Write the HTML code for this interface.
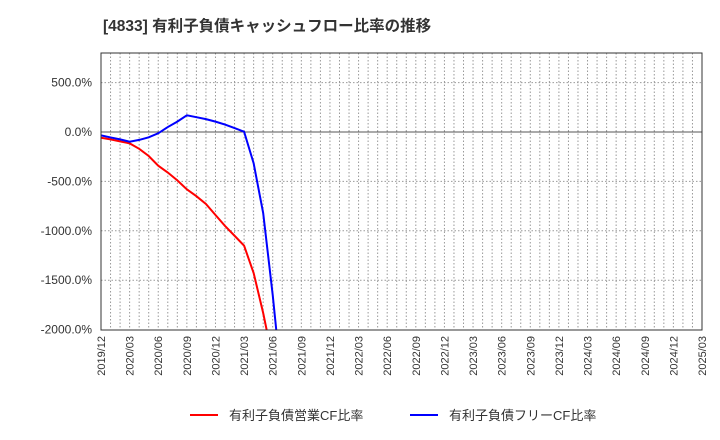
<!DOCTYPE html>
<html><head><meta charset="utf-8"><style>
html,body{margin:0;background:#fff;width:720px;height:440px;overflow:hidden;}
svg{display:block;}
svg text{font-family:"Liberation Sans","Noto Sans CJK JP",sans-serif;}
</style></head><body>
<svg id="c" width="720" height="440" xmlns="http://www.w3.org/2000/svg">
<text x="103" y="31" font-size="15.5" font-weight="bold" fill="#333">[4833]  有利子負債キャッシュフロー比率の推移</text>
<g id="grid"></g><g id="axes"></g>
<defs><clipPath id="pc"><rect x="101" y="53" width="601" height="277"/></clipPath></defs>
<g id="series" clip-path="url(#pc)"></g>
<rect x="101" y="53" width="601" height="277" fill="none" stroke="#333"/>
<g>
<line x1="190" y1="415" x2="218" y2="415" stroke="#f00" stroke-width="2"/>
<text x="229" y="420" font-size="13" fill="#333">有利子負債営業CF比率</text>
<line x1="410" y1="415" x2="438" y2="415" stroke="#00f" stroke-width="2"/>
<text x="449" y="420" font-size="13" fill="#333">有利子負債フリーCF比率</text>
</g>
</svg>
<script>
const yTicks=[500,0,-500,-1000,-1500,-2000];
const yTickLabels=["500.0%","0.0%","-500.0%","-1000.0%","-1500.0%","-2000.0%"];
const xLabels=["2019/12","2020/03","2020/06","2020/09","2020/12","2021/03","2021/06","2021/09","2021/12","2022/03","2022/06","2022/09","2022/12","2023/03","2023/06","2023/09","2023/12","2024/03","2024/06","2024/09","2024/12","2025/03"];
const redValues=[-58,-75,-95,-115,-170,-243,-341,-410,-490,-580,-650,-729,-840,-951,-1050,-1151,-1427,-1832,-2300];
const blueValues=[-34,-55,-75,-98,-80,-54,-13,50,105,169,150,130,105,75,40,3,-316,-820,-1650,-2600];
const NS="http://www.w3.org/2000/svg";
const X0=101,X1=702,nMonths=63;
const xs=m=>X0+(X1-X0)*m/nMonths;
const ys=v=>132-v*49.4/500;
function mk(t,a,p){const e=document.createElementNS(NS,t);for(const k in a)e.setAttribute(k,a[k]);p.appendChild(e);return e;}
const grid=document.getElementById('grid'),axes=document.getElementById('axes'),series=document.getElementById('series');
for(let m=1;m<nMonths;m++){const l=mk('line',{x1:xs(m),x2:xs(m),y1:53,y2:330,stroke:'#999','stroke-dasharray':'1.5,2','stroke-width':1},grid);

}
yTicks.forEach((v,i)=>{
if(v!==-2000){const l=mk('line',{x1:X0,x2:X1,y1:ys(v),y2:ys(v),stroke:v===0?'#555':'#999','stroke-dasharray':v===0?'none':'1.5,2','stroke-width':1},grid);

}
const t=mk('text',{x:92,y:ys(v)+4,'text-anchor':'end','font-size':12,fill:'#333'},axes);t.textContent=yTickLabels[i];


});
xLabels.forEach((s,i)=>{const x=xs(i*3);
const t=mk('text',{x:0,y:0,'text-anchor':'end','font-size':11,fill:'#333',transform:`translate(${x+4},336) rotate(-90)`},axes);t.textContent=s;

});
function line(vals,col,name){const p=mk('polyline',{points:vals.map((v,i)=>xs(i)+','+ys(v)).join(' '),fill:'none',stroke:col,'stroke-width':2},series);

}
line(redValues,'#f00','series-operating-cf-ratio');
line(blueValues,'#00f','series-free-cf-ratio');
</script>
</body></html>
